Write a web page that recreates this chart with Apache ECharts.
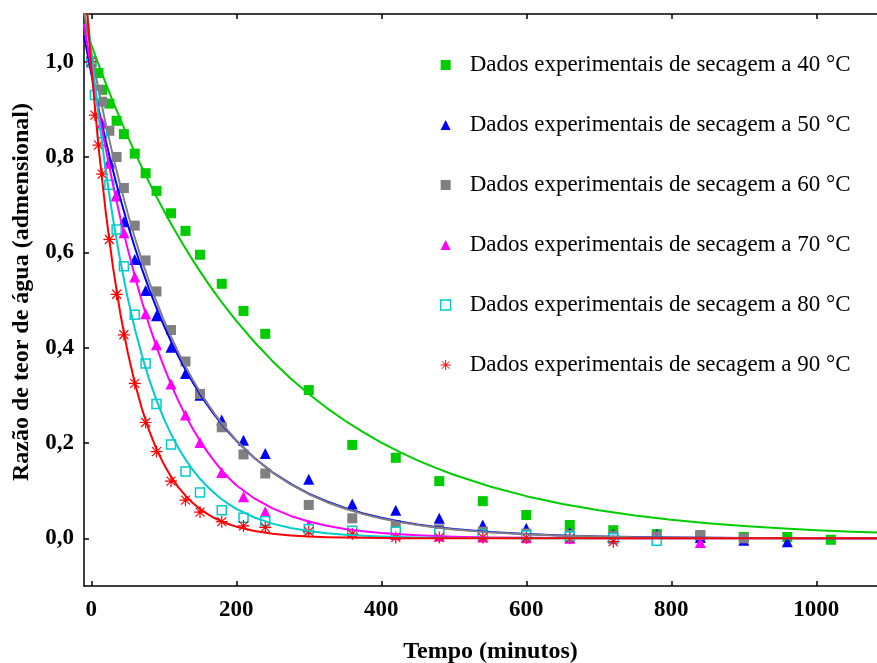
<!DOCTYPE html>
<html>
<head>
<meta charset="utf-8">
<script src="https://cdn.jsdelivr.net/npm/echarts@6/dist/echarts.min.js"></script>
<style>html,body{margin:0;padding:0;background:#fff}#c{width:877px;height:663px}</style>
</head>
<body>
<div id="c"></div>
<script>
// Experimental points [time (min), moisture ratio]
const dry40 = [[0,1.00],[10,0.976],[15,0.941],[25,0.912],[35,0.876],[45,0.848],[60,0.807],[75,0.766],[90,0.729],[110,0.682],[130,0.645],[150,0.595],[180,0.534],[210,0.477],[240,0.429],[300,0.311],[360,0.196],[420,0.169],[480,0.120],[540,0.078],[600,0.049],[660,0.028],[720,0.017],[780,0.009],[840,0.005],[900,0.003],[960,0.003],[1020,-0.003]];
const dry50 = [[0,1.00],[15,0.87],[25,0.79],[35,0.72],[45,0.664],[60,0.585],[75,0.520],[90,0.467],[110,0.401],[130,0.346],[150,0.300],[180,0.248],[210,0.206],[240,0.178],[300,0.124],[360,0.072],[420,0.059],[480,0.042],[540,0.028],[600,0.021],[660,0.012],[720,0.009],[780,0.008],[840,0.002],[900,-0.004],[960,-0.007]];
const dry60 = [[0,1.00],[10,0.941],[15,0.916],[25,0.855],[35,0.800],[45,0.735],[60,0.656],[75,0.583],[90,0.518],[110,0.437],[130,0.371],[150,0.303],[180,0.233],[210,0.176],[240,0.136],[300,0.070],[360,0.042],[420,0.028],[480,0.019],[540,0.014],[600,0.010],[660,0.007],[720,0.005],[780,0.004],[840,0.007],[900,0.000]];
const dry70 = [[0,1.00],[15,0.87],[25,0.787],[35,0.718],[45,0.641],[60,0.548],[75,0.471],[90,0.406],[110,0.324],[130,0.259],[150,0.201],[180,0.138],[210,0.087],[240,0.056],[300,0.028],[360,0.014],[420,0.008],[480,0.005],[540,0.003],[600,0.001],[660,0.000],[720,0.000],[780,-0.002],[840,-0.009]];
const dry80 = [[0,1.00],[5,0.93],[15,0.85],[25,0.742],[35,0.648],[45,0.571],[60,0.469],[75,0.367],[90,0.282],[110,0.197],[130,0.140],[150,0.096],[180,0.059],[210,0.043],[240,0.036],[300,0.019],[360,0.016],[420,0.014],[480,0.012],[540,0.008],[600,0.006],[660,0.004],[720,0.000],[780,-0.005]];
const dry90 = [[0,1.00],[5,0.888],[10,0.825],[15,0.764],[25,0.627],[35,0.512],[45,0.427],[60,0.325],[75,0.243],[90,0.182],[110,0.120],[130,0.080],[150,0.055],[180,0.035],[210,0.026],[240,0.023],[300,0.014],[360,0.009],[420,0.002],[480,0.002],[540,0.002],[600,0.001],[660,0.000],[720,-0.007]];

// Fitted curves at these times
const fitTimes = [-10,0,10,20,30,40,50,60,70,80,90,100,110,120,130,140,150,160,170,180,190,200,
  225,250,275,300,325,350,375,400,425,450,475,500,550,600,650,700,750,800,850,900,950,1000,1050,1100];
const fit40 = [1.0794,1.036,0.9944,0.9545,0.9161,0.8793,0.8440,0.8101,0.7776,0.7463,0.7163,0.6876,0.6600,0.6335,0.6080,0.5836,0.5601,0.5376,0.5160,0.4953,0.4754,0.4563,
  0.4119,0.3717,0.3355,0.3028,0.2733,0.2467,0.2227,0.2010,0.1814,0.1637,0.1478,0.1334,0.1087,0.0885,0.0721,0.0588,0.0479,0.0390,0.0318,0.0259,0.0211,0.0172,0.0140,0.0114];
const fit50 = [1.0541,0.975,0.9018,0.8342,0.7716,0.7137,0.6601,0.6106,0.5648,0.5224,0.4832,0.4470,0.4134,0.3824,0.3537,0.3272,0.3026,0.2799,0.2589,0.2395,0.2215,0.2049,
  0.1686,0.1387,0.1141,0.0939,0.0773,0.0636,0.0523,0.0430,0.0354,0.0291,0.0240,0.0197,0.0134,0.0090,0.0061,0.0041,0.0028,0.0019,0.0013,0.0009,0.0006,0.0004,0.0003,0.0002];
const fit60 = [1.1050,1.02,0.9416,0.8692,0.8024,0.7407,0.6837,0.6312,0.5826,0.5378,0.4965,0.4583,0.4231,0.3906,0.3605,0.3328,0.3072,0.2836,0.2618,0.2417,0.2231,0.2059,
  0.1686,0.1380,0.1130,0.0925,0.0758,0.0620,0.0508,0.0416,0.0340,0.0279,0.0228,0.0187,0.0125,0.0084,0.0056,0.0038,0.0025,0.0017,0.0011,0.0008,0.0005,0.0003,0.0002,0.0002];
const fit70 = [1.079,0.985,0.8977,0.8168,0.7418,0.6726,0.6088,0.5501,0.4962,0.4469,0.4017,0.3606,0.3231,0.2890,0.2580,0.2300,0.2048,0.1819,0.1613,0.1428,0.1262,0.1114,
  0.0836,0.0627,0.0470,0.0353,0.0265,0.0198,0.0149,0.0112,0.0084,0.0063,0.0047,0.0035,0.0020,0.0011,0.0006,0.0004,0.0002,0.0001,0,0,0,0,0,0];
const fit80 = [1.1733,1.02,0.8867,0.7709,0.6702,0.5826,0.5065,0.4403,0.3828,0.3328,0.2893,0.2515,0.2187,0.1901,0.1653,0.1437,0.1249,0.1086,0.0944,0.0821,0.0713,0.0620,
  0.0437,0.0308,0.0217,0.0153,0.0108,0.0076,0.0053,0.0038,0.0026,0.0019,0.0013,0.0009,0.0005,0.0002,0.0001,0,0,0,0,0,0,0,0,0];
const fit90 = [1.1912,0.99,0.8228,0.6838,0.5683,0.4723,0.3926,0.3263,0.2712,0.2254,0.1873,0.1557,0.1294,0.1075,0.0894,0.0743,0.0617,0.0513,0.0426,0.0354,0.0295,0.0245,
  0.0154,0.0097,0.0061,0.0038,0.0024,0.0015,0.0010,0.0006,0.0004,0.0002,0.0002,0.0001,0,0,0,0,0,0,0,0,0,0,0,0];

const xTicks = [0,200,400,600,800,1000];
const yTicks = [0,0.2,0.4,0.6,0.8,1.0];
const names = ['Dados experimentais de secagem a 40 °C','Dados experimentais de secagem a 50 °C','Dados experimentais de secagem a 60 °C','Dados experimentais de secagem a 70 °C','Dados experimentais de secagem a 80 °C','Dados experimentais de secagem a 90 °C'];
const colors = ['#00CC00','#0000FF','#808080','#FF00FF','#00CCCC','#FF0000'];

const SERIF = '"Liberation Serif","Times New Roman",serif';
const asterisk = 'path://M0,-10L0,10M-10,0L10,0M-7.5,-7.5L7.5,7.5M-7.5,7.5L7.5,-7.5';

const pts = [dry40,dry50,dry60,dry70,dry80,dry90];
const fits = [fit40,fit50,fit60,fit70,fit80,fit90];
const symbols = ['rect','triangle','rect','triangle','rect',asterisk];
const sizes = [10,11,10,11,9,12];

const series = [];
pts.forEach((d,i)=>{
  const s = {
    name: names[i], type:'scatter', data:d, symbol:symbols[i], symbolSize:sizes[i],
    z: 2+i, itemStyle:{color:colors[i], opacity:1}, silent:true
  };
  if (i===4) s.itemStyle = {color:'#ffffff', borderColor:colors[i], borderWidth:1.5, opacity:1};
  if (i===5) s.itemStyle = {color:colors[i], borderColor:colors[i], borderWidth:1.2, opacity:1};
  series.push(s);
});
fits.forEach((f,i)=>{
  series.push({
    type:'line', data: fitTimes.map((t,k)=>[t,f[k]]), showSymbol:false, symbol:'none',
    smooth:false, clip:true, z: 10+i, silent:true,
    lineStyle:{color:colors[i], width:2, join:'round'}
  });
});

const chart = echarts.init(document.getElementById('c'), null, {renderer:'canvas'});
chart.setOption({
  animation:false,
  backgroundColor:'#fff',
  grid:{left:84, right:-6, top:14, bottom:77, containLabel:false, outerBoundsMode:'none'},
  legend:{
    orient:'vertical', left:440, top:53, padding:0, itemGap:36,
    itemWidth:10, itemHeight:10, selectedMode:false,
    textStyle:{fontFamily:SERIF, fontSize:23, color:'#000', lineHeight:24, padding:[0,0,0,14]},
    data: names.map((n,i)=> i===4 ? {name:n, itemStyle:{color:'#fff', borderColor:colors[4], borderWidth:1.3}} :
                          i===5 ? {name:n, itemStyle:{color:colors[5], borderColor:colors[5], borderWidth:1}} :
                          {name:n, itemStyle:{borderWidth:0}})
  },
  xAxis:[{
    type:'value', min:-10, max:1092, position:'bottom',
    name:'Tempo (minutos)', nameLocation:'middle', nameGap:54,
    nameTextStyle:{fontFamily:SERIF, fontSize:24, fontWeight:'bold', color:'#000', padding:[0,0,0,14]},
    axisLine:{show:true, onZero:false, lineStyle:{color:'#000', width:1.5}},
    axisTick:{show:true, inside:true, length:5, customValues:xTicks, lineStyle:{color:'#000', width:1.5}},
    axisLabel:{show:true, margin:13, customValues:xTicks, fontFamily:SERIF, fontSize:23, fontWeight:'bold', color:'#000',
      formatter:(v)=>String(v)},
    splitLine:{show:false}
  },{
    type:'value', min:-10, max:1092, position:'top',
    axisLine:{show:true, onZero:false, lineStyle:{color:'#000', width:1.5}},
    axisTick:{show:true, inside:true, length:5, customValues:xTicks, lineStyle:{color:'#000', width:1.5}},
    axisLabel:{show:false}, splitLine:{show:false}
  }],
  yAxis:[{
    type:'value', min:-0.1, max:1.1,
    name:'Razão de teor de água (admensional)', nameLocation:'middle', nameGap:50, nameRotate:90,
    nameTextStyle:{fontFamily:SERIF, fontSize:24, fontWeight:'bold', color:'#000', padding:[0,0,0,16]},
    axisLine:{show:true, onZero:false, lineStyle:{color:'#000', width:1.5}},
    axisTick:{show:true, inside:true, length:5, customValues:yTicks, lineStyle:{color:'#000', width:1.5}},
    axisLabel:{show:true, margin:10, customValues:yTicks, fontFamily:SERIF, fontSize:23, fontWeight:'bold', color:'#000',
      padding:[4,0,0,0], formatter:(v)=>Number(v).toFixed(1).replace('.',',')},
    splitLine:{show:false}
  }],
  series: series
});
</script>
</body>
</html>
